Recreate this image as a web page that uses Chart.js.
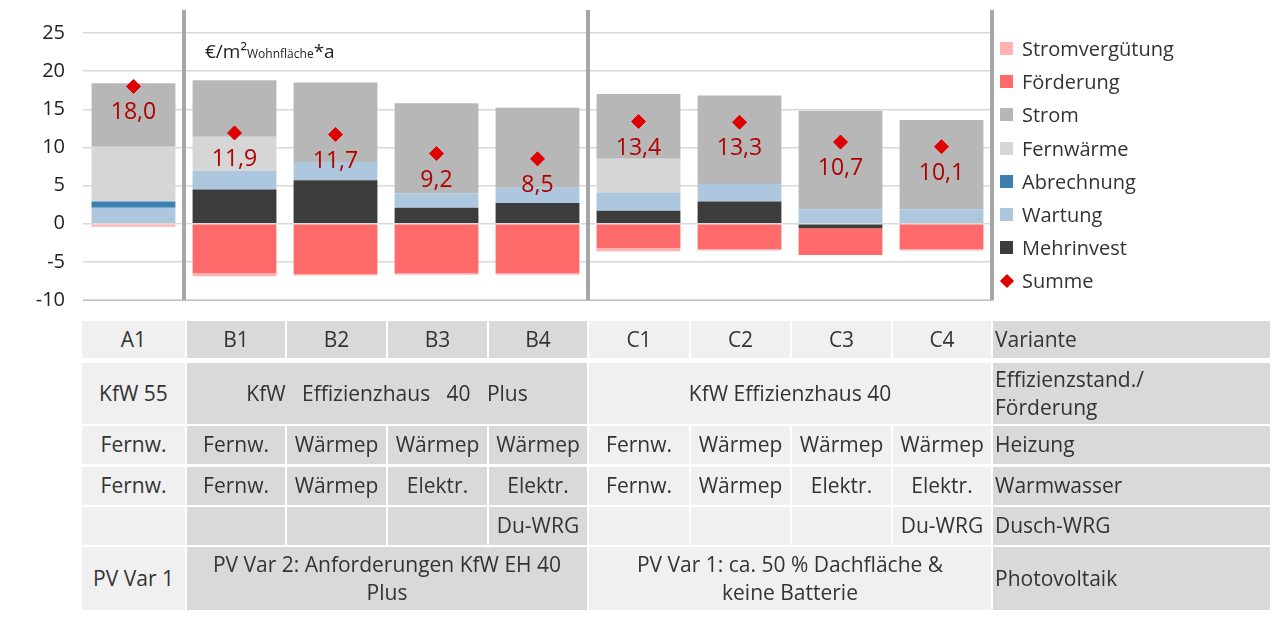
<!DOCTYPE html>
<html>
<head>
<meta charset="utf-8">
<script src="https://cdn.jsdelivr.net/npm/chart.js@4"></script>
<style>
  body { margin: 0; background: #fff; font-family: "Open Sans", sans-serif; }
  #wrap { position: relative; width: 1280px; height: 620px; }
  #chartBox { position: absolute; left: 0; top: 0; width: 1280px; height: 330px; }
  .unit { position: absolute; left: 205px; top: 38px; font-size: 19px; color: #222; }
  .unit sub { font-size: 12px; vertical-align: baseline; }
  .legend { position: absolute; left: 1000px; top: 32px; font-size: 20px; color: #333; }
  .legend div { height: 33.2px; display: flex; align-items: center; }
  .legend span.sw { width: 13px; height: 13px; margin-right: 9px; display: inline-block; }
  .legend span.dm { width: 10px; height: 10px; margin: 0 10px 0 2px; background: #e00000; transform: rotate(45deg); display: inline-block; }
  .cell { position: absolute; display: flex; align-items: center; justify-content: center; text-align: center;
          font-size: 21px; color: #333; line-height: 1.3; }
  .lbl { justify-content: flex-start; text-align: left; padding-left: 2px; }
</style>
</head>
<body>
<div id="wrap">
  <div id="chartBox"><canvas id="costChart"></canvas></div>
  <div class="unit">€/m²<sub>Wohnfläche</sub>*a</div>
  <div class="legend" id="legend"></div>
  <div id="table"></div>
</div>
<script>
  // Data
  const variants = ['A1', 'B1', 'B2', 'B3', 'B4', 'C1', 'C2', 'C3', 'C4'];
  const mehrinvest = [0, 4.5, 5.7, 2.1, 2.7, 1.7, 2.9, -0.6, 0];
  const wartung = [2.1, 2.4, 2.4, 1.9, 2.0, 2.4, 2.3, 1.9, 1.9];
  const abrechnung = [0.8, 0, 0, 0, 0, 0, 0, 0, 0];
  const fernwaerme = [7.2, 4.5, 0, 0, 0, 4.4, 0, 0, 0];
  const strom = [8.3, 7.4, 10.4, 11.8, 10.5, 8.5, 11.6, 12.9, 11.7];
  const foerderung = [0, -6.5, -6.6, -6.5, -6.5, -3.2, -3.3, -3.5, -3.3];
  const stromverguetung = [-0.4, -0.4, -0.2, -0.2, -0.2, -0.4, -0.2, 0, -0.2];
  const summe = [18.0, 11.9, 11.7, 9.2, 8.5, 13.4, 13.3, 10.7, 10.1];
  const yTicks = [-10, -5, 0, 5, 10, 15, 20, 25];

  const colors = {
    Stromvergütung: '#ffb3b3', Förderung: '#ff6b6b', Strom: '#b7b7b7', Fernwärme: '#d6d6d6',
    Abrechnung: '#3b80b1', Wartung: '#adc8de', Mehrinvest: '#3c3c3c'
  };

  const barSet = (label, data) => ({
    type: 'bar', label, data, stack: 'cost', backgroundColor: colors[label],
    categoryPercentage: 1, barPercentage: 0.83, order: 2
  });

  // separators + value labels
  const extras = {
    id: 'extras',
    afterDatasetsDraw(chart) {
      const ctx = chart.ctx, x = chart.scales.x, y = chart.scales.y;
      const step = x.getPixelForValue(1) - x.getPixelForValue(0);
      ctx.save();
      ctx.strokeStyle = '#a6a6a6';
      ctx.lineWidth = 4;
      [0, 4, 8].forEach(i => {
        const px = x.getPixelForValue(i) + step / 2;
        ctx.beginPath(); ctx.moveTo(px, 10); ctx.lineTo(px, y.bottom); ctx.stroke();
      });
      ctx.fillStyle = '#b00000';
      ctx.font = '23px "Open Sans"';
      ctx.textAlign = 'center';
      ctx.textBaseline = 'top';
      summe.forEach((v, i) => {
        ctx.fillText(v.toFixed(1).replace('.', ','), x.getPixelForValue(i), y.getPixelForValue(v) + 15);
      });
      ctx.restore();
    }
  };

  new Chart(document.getElementById('costChart').getContext('2d'), {
    data: {
      labels: variants,
      datasets: [
        barSet('Mehrinvest', mehrinvest),
        barSet('Wartung', wartung),
        barSet('Abrechnung', abrechnung),
        barSet('Fernwärme', fernwaerme),
        barSet('Strom', strom),
        barSet('Förderung', foerderung),
        barSet('Stromvergütung', stromverguetung),
        {
          type: 'line', label: 'Summe', data: summe, stack: 'sum', showLine: false, order: 1,
          pointStyle: 'rectRot', pointRadius: 7, backgroundColor: '#e00000', borderColor: '#e00000'
        }
      ]
    },
    options: {
      responsive: true,
      maintainAspectRatio: false,
      animation: false,
      layout: { padding: { top: 33, right: 288, bottom: 12, left: 0 } },
      plugins: { legend: { display: false }, tooltip: { enabled: false } },
      scales: {
        x: {
          stacked: true,
          afterFit: s => { s.height = 0; },
          ticks: { display: false },
          grid: { display: false },
          border: { color: '#bfbfbf' }
        },
        y: {
          stacked: true, min: -10, max: 25,
          afterBuildTicks: s => { s.ticks = yTicks.map(v => ({ value: v })); },
          afterFit: s => { s.width = 83; },
          ticks: { color: '#222', font: { family: '"Open Sans"', size: 20 }, padding: 18 },
          grid: { color: '#d9d9d9', lineWidth: 1.5, drawTicks: false },
          border: { display: false }
        }
      }
    },
    plugins: [extras]
  });

  // Legend
  const legendOrder = ['Stromvergütung', 'Förderung', 'Strom', 'Fernwärme', 'Abrechnung', 'Wartung', 'Mehrinvest'];
  const legend = document.getElementById('legend');
  legendOrder.forEach(n => {
    legend.innerHTML += `<div><span class="sw" style="background:${colors[n]}"></span>${n}</div>`;
  });
  legend.innerHTML += '<div><span class="dm"></span>Summe</div>';

  // Table under the chart
  const colX = [81, 186, 286, 387, 488, 588, 690, 791, 892, 992, 1270];
  const rowY = [[321, 358], [363, 424], [426, 464], [467, 505], [507, 545], [547, 610]];
  const shadeB = '#d9d9d9', shadeL = '#f0f0f0';
  const colShade = [shadeL, shadeB, shadeB, shadeB, shadeB, shadeL, shadeL, shadeL, shadeL];
  const rows = [
    variants.map(v => [v, 1]),
    [['KfW 55', 1], ['KfW&nbsp;&nbsp; Effizienzhaus&nbsp;&nbsp; 40&nbsp;&nbsp; Plus', 4], ['KfW Effizienzhaus 40', 4]],
    [['Fernw.', 1], ['Fernw.', 1], ['Wärmep', 1], ['Wärmep', 1], ['Wärmep', 1], ['Fernw.', 1], ['Wärmep', 1], ['Wärmep', 1], ['Wärmep', 1]],
    [['Fernw.', 1], ['Fernw.', 1], ['Wärmep', 1], ['Elektr.', 1], ['Elektr.', 1], ['Fernw.', 1], ['Wärmep', 1], ['Elektr.', 1], ['Elektr.', 1]],
    [['', 1], ['', 1], ['', 1], ['', 1], ['Du-WRG', 1], ['', 1], ['', 1], ['', 1], ['Du-WRG', 1]],
    [['PV Var 1', 1], ['PV Var 2: Anforderungen KfW EH 40<br>Plus', 4], ['PV Var 1: ca. 50 % Dachfläche &amp;<br>keine Batterie', 4]]
  ];
  const rowLabels = ['Variante', 'Effizienzstand./<br>Förderung', 'Heizung', 'Warmwasser', 'Dusch-WRG', 'Photovoltaik'];
  let html = '';
  rows.forEach((row, r) => {
    const [y0, y1] = rowY[r];
    let c = 0;
    row.forEach(([txt, span]) => {
      const x0 = colX[c] + 1, x1 = colX[c + span] - 1;
      html += `<div class="cell" style="left:${x0}px;top:${y0}px;width:${x1 - x0}px;height:${y1 - y0}px;background:${colShade[c]}">${txt}</div>`;
      c += span;
    });
    html += `<div class="cell lbl" style="left:${colX[9] + 1}px;top:${y0}px;width:${colX[10] - colX[9] - 3}px;height:${y1 - y0}px;background:${shadeB}">${rowLabels[r]}</div>`;
  });
  document.getElementById('table').innerHTML = html;
</script>
</body>
</html>
